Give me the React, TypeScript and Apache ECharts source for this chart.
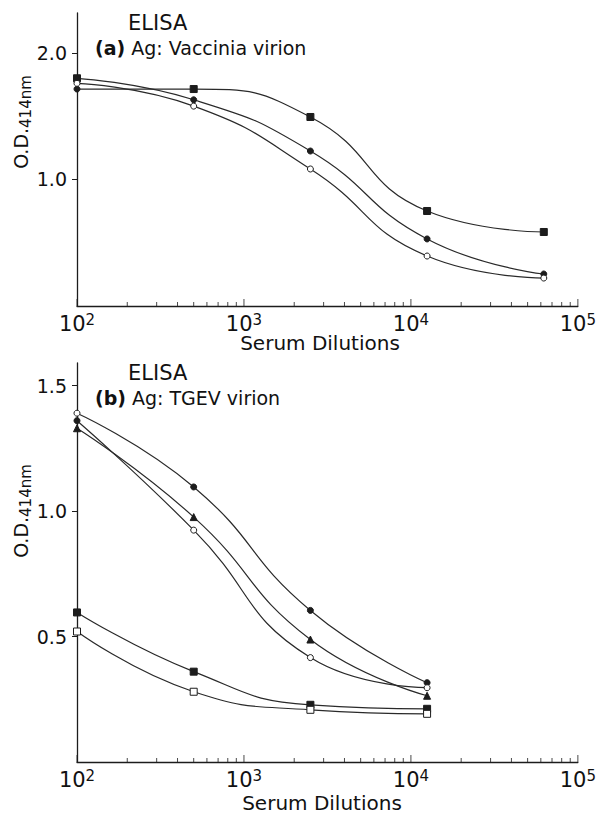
import React, { useEffect, useRef } from 'react';
import * as echarts from 'echarts';

// ---------- data ----------
const dilutionsA = [100, 500, 2500, 12500, 62500];
const vacciniaSquare = [1.715, 1.715, 1.494, 0.751, 0.585];
const vacciniaFilled = [1.8, 1.63, 1.225, 0.53, 0.253];
const vacciniaOpen = [1.76, 1.58, 1.083, 0.395, 0.221];

const dilutionsB = [100, 500, 2500, 12500];
const tgevUpper = [1.39, 1.096, 0.604, 0.316];
const tgevSteep = [1.36, 0.924, 0.416, 0.296];
const tgevTriangle = [1.33, 0.976, 0.488, 0.264];
const tgevFilledSquare = [0.596, 0.36, 0.228, 0.212];
const tgevOpenSquare = [0.52, 0.28, 0.208, 0.192];

const xMajorTicks = [100, 1000, 10000, 100000];
const xMinorTicks = [
  200, 300, 400, 500, 600, 700, 800, 900,
  2000, 3000, 4000, 5000, 6000, 7000, 8000, 9000,
  20000, 30000, 40000, 50000, 60000, 70000, 80000, 90000,
];
const yTicksA = [1.0, 2.0];
const yTicksB = [0.5, 1.0, 1.5];

const FONT = '"DejaVu Sans", "Liberation Sans", Arial, sans-serif';
const INK = '#1c1c1c';

type Mk = { symbol: string; open: boolean };

function makeSeries(
  name: string,
  xs: number[],
  ys: number[],
  idx: number,
  mk: Mk,
  first?: Mk
) {
  const sizeOf = (s: string) => (s === 'rect' ? 7 : s === 'triangle' ? 7 : 6);
  const styleOf = (m: Mk) => ({
    color: m.open ? '#ffffff' : INK,
    borderColor: INK,
    borderWidth: 1,
  });
  return {
    name,
    type: 'line',
    xAxisIndex: idx,
    yAxisIndex: idx,
    smooth: 0.5,
    symbol: mk.symbol,
    symbolSize: sizeOf(mk.symbol),
    itemStyle: styleOf(mk),
    lineStyle: { color: '#2a2a2a', width: 1.2 },
    z: 3,
    data: xs.map((x, i) =>
      i === 0 && first
        ? {
            value: [x, ys[i]],
            symbol: first.symbol,
            symbolSize: sizeOf(first.symbol),
            itemStyle: styleOf(first),
          }
        : { value: [x, ys[i]] }
    ),
  };
}

// tick marks drawn as thin rect symbols sitting on the x axis line
function tickSeries(idx: number, values: number[], len: number) {
  return {
    type: 'scatter',
    xAxisIndex: idx,
    yAxisIndex: idx,
    silent: true,
    clip: false,
    z: 4,
    symbol: 'rect',
    symbolSize: [1, len],
    symbolOffset: [0, -len / 2],
    itemStyle: { color: INK },
    data: values.map((v) => [v, 0]),
  };
}

function xAxis(idx: number) {
  return {
    type: 'log',
    logBase: 10,
    gridIndex: idx,
    min: 100,
    max: 100000,
    axisLine: { show: true, lineStyle: { color: INK, width: 1.3 } },
    axisTick: { show: false },
    minorTick: { show: false },
    splitLine: { show: false },
    axisLabel: {
      customValues: xMajorTicks,
      margin: 6,
      color: '#111',
      formatter: (v: number) => `{b|10}{s|${Math.round(Math.log10(v))}}`,
      rich: {
        b: { fontSize: 21, fontFamily: FONT, color: '#111', lineHeight: 23 },
        s: {
          fontSize: 15,
          fontFamily: FONT,
          color: '#111',
          verticalAlign: 'top',
          lineHeight: 15,
        },
      },
    },
  };
}

function yAxis(idx: number, max: number, ticks: number[]) {
  return {
    type: 'value',
    gridIndex: idx,
    min: 0,
    max,
    axisLine: { show: true, lineStyle: { color: INK, width: 1.3 } },
    axisTick: {
      show: true,
      length: 5,
      customValues: ticks,
      lineStyle: { color: INK, width: 1 },
    },
    splitLine: { show: false },
    axisLabel: {
      customValues: ticks,
      margin: 10,
      fontSize: 19,
      fontFamily: FONT,
      color: '#111',
      formatter: (v: number) => v.toFixed(1),
    },
  };
}

function yTitle(cx: number, cy: number) {
  return {
    type: 'text',
    x: cx,
    y: cy,
    rotation: Math.PI / 2,
    style: {
      text: '{a|O.D.}{b|414nm}',
      align: 'center',
      verticalAlign: 'middle',
      rich: {
        a: { fontSize: 19, fontFamily: FONT, fill: '#111', lineHeight: 24, verticalAlign: 'middle' },
        b: { fontSize: 15, fontFamily: FONT, fill: '#111', lineHeight: 24, verticalAlign: 'bottom' },
      },
    },
  };
}

function panelTitle(x: number, y1: number, y2: number, letter: string, ag: string) {
  return [
    {
      type: 'text',
      x,
      y: y1,
      style: {
        text: 'ELISA',
        fontSize: 21,
        fontFamily: FONT,
        fill: '#111',
        verticalAlign: 'middle',
      },
    },
    {
      type: 'text',
      x: 95,
      y: y2,
      style: {
        text: `{b|(${letter})} ${ag}`,
        fontSize: 19,
        fontFamily: FONT,
        fill: '#111',
        verticalAlign: 'middle',
        rich: {
          b: { fontSize: 19, fontFamily: FONT, fontWeight: 'bold', fill: '#111' },
        },
      },
    },
  ];
}

function xTitle(cx: number, cy: number) {
  return {
    type: 'text',
    x: cx,
    y: cy,
    style: {
      text: 'Serum Dilutions',
      fontSize: 20,
      fontFamily: FONT,
      fill: '#111',
      align: 'center',
      verticalAlign: 'middle',
    },
  };
}

export default function App() {
  const ref = useRef<HTMLDivElement>(null);
  useEffect(() => {
    if (!ref.current) return;
    const chart = echarts.init(ref.current, undefined, { renderer: 'svg' });
    const square: Mk = { symbol: 'rect', open: false };
    const openSquare: Mk = { symbol: 'rect', open: true };
    const dot: Mk = { symbol: 'circle', open: false };
    const ring: Mk = { symbol: 'circle', open: true };
    const tri: Mk = { symbol: 'triangle', open: false };
    chart.setOption({
      animation: false,
      backgroundColor: '#ffffff',
      grid: [
        { left: 77, top: 13, width: 501, height: 293 },
        { left: 77, top: 363, width: 501, height: 399 },
      ],
      xAxis: [xAxis(0), xAxis(1)],
      yAxis: [yAxis(0, 2.316, yTicksA), yAxis(1, 1.59, yTicksB)],
      series: [
        makeSeries('Vaccinia square', dilutionsA, vacciniaSquare, 0, square, dot),
        makeSeries('Vaccinia filled', dilutionsA, vacciniaFilled, 0, dot, square),
        makeSeries('Vaccinia open', dilutionsA, vacciniaOpen, 0, ring),
        makeSeries('TGEV upper', dilutionsB, tgevUpper, 1, dot, ring),
        makeSeries('TGEV steep', dilutionsB, tgevSteep, 1, ring, dot),
        makeSeries('TGEV triangle', dilutionsB, tgevTriangle, 1, tri),
        makeSeries('TGEV filled square', dilutionsB, tgevFilledSquare, 1, square),
        makeSeries('TGEV open square', dilutionsB, tgevOpenSquare, 1, openSquare),
        tickSeries(0, xMinorTicks, 4),
        tickSeries(1, xMinorTicks, 4),
        tickSeries(0, xMajorTicks, 7),
        tickSeries(1, xMajorTicks, 7),
      ],
      graphic: [
        ...panelTitle(128, 23, 48, 'a', 'Ag: Vaccinia virion'),
        ...panelTitle(128, 373, 398, 'b', 'Ag: TGEV virion'),
        yTitle(21, 122),
        yTitle(21, 511),
        xTitle(320, 343),
        xTitle(322, 803),
      ],
    });
    return () => chart.dispose();
  }, []);
  return (
    <div
      ref={ref}
      style={{ position: 'fixed', left: 0, top: 0, width: 599, height: 818, background: '#fff' }}
    />
  );
}
